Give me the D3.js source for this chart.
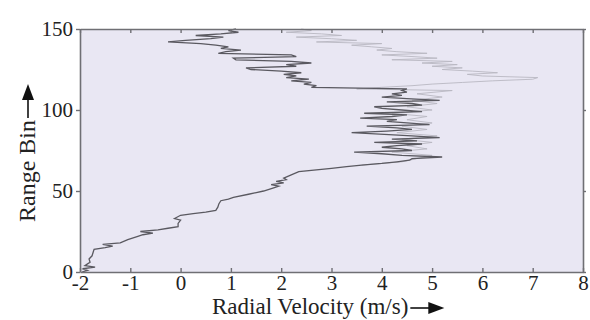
<!DOCTYPE html>
<html>
<head>
<meta charset="utf-8">
<script src="https://cdn.jsdelivr.net/npm/d3@7"></script>
<style>
  html, body { margin: 0; padding: 0; background: #fff; }
  svg { display: block; }
  text { font-family: "Liberation Serif", "Times New Roman", "DejaVu Serif", serif; fill: #222; }
</style>
</head>
<body>
<svg id="chart" width="590" height="320"></svg>
<script>
// range bins and radial velocity (m/s)
const darkBins = [0, 1, 2, 3, 4, 5, 6, 8, 10, 12, 14, 15, 16, 17, 18, 20, 22, 23, 24, 25, 26, 27, 28, 30, 32, 33, 35, 36, 37, 38, 40, 42, 44, 45, 46, 48, 50, 52, 53, 54, 55, 56, 57, 58, 60, 62, 63, 64, 65, 66, 67, 68, 69, 70,
  71, 72, 73, 74, 75, 76, 77, 78, 79, 80, 81, 82, 83, 84, 85, 86, 87, 88, 89, 90, 91, 92, 93, 94, 95, 96, 97, 98, 99, 100,
  101, 102, 103, 104, 105, 106, 107, 108, 109, 110, 111, 112, 113, 114, 115, 116, 117, 118, 119, 120, 121, 122, 123, 124, 125,
  126, 127, 128, 129, 130, 131, 132, 133, 134, 135, 136, 137, 138, 139, 140, 141, 142, 143, 144, 145, 146, 147, 148, 149, 150];
const darkVel = [-1.96, -1.85, -1.95, -1.70, -1.90, -1.85, -1.80, -1.82, -1.76, -1.74, -1.72, -1.50, -1.35, -1.55, -1.20, -1.05, -0.85, -0.75, -0.55, -0.80, -0.45, -0.25, -0.05, -0.05, 0.00, -0.12, 0.00, 0.25, 0.50, 0.70, 0.74, 0.76, 0.80, 0.95, 1.05, 1.35, 1.65, 1.85, 1.95, 1.80, 2.05, 1.90, 2.10, 2.05, 2.20, 2.35, 2.70, 3.00, 3.30, 3.60, 4.00, 4.30, 4.55, 4.60,
  5.20, 4.40, 4.00, 3.45, 4.60, 4.40, 4.00, 4.30, 4.80, 3.85, 4.70, 4.20, 5.15, 4.60, 4.05, 3.40, 4.10, 4.60, 4.30, 3.70, 4.95, 4.50, 4.10, 4.30, 3.57, 4.20, 4.50, 3.65, 4.80, 4.40,
  4.00, 3.85, 4.80, 4.60, 4.10, 5.15, 4.50, 4.00, 4.40, 4.20, 4.50, 4.40, 4.50, 2.60, 2.70, 2.45, 2.60, 2.20, 2.55, 2.10, 2.30, 2.05, 2.40, 2.00, 1.40,
  1.30, 2.30, 2.10, 2.60, 2.20, 1.10, 1.05, 2.30, 2.20, 0.75, 0.90, 1.20, 0.80, 0.95, 0.70, 0.40, -0.25, 0.10, 0.60, 0.85, 0.30, 0.80, 1.15, 0.95, 1.10];

const lightBins = [66, 68, 70, 72, 74, 76, 78, 80, 82, 84, 86, 88, 90, 92, 94, 96, 98, 100, 102, 104, 106, 108, 110, 112, 113, 114, 115, 116, 117, 118, 119, 120,
  121, 122, 123, 124, 125, 126, 127, 128, 129, 130, 131, 132, 133, 134, 135, 136, 137, 138, 139, 140, 141, 142, 143, 144, 145, 146, 147, 148, 149, 150];
const lightVel = [3.60, 4.40, 4.70, 5.00, 4.20, 4.90, 4.50, 5.00, 4.40, 5.10, 4.30, 4.90, 4.40, 5.00, 4.50, 4.90, 4.20, 5.00, 4.50, 5.10, 4.60, 5.20, 4.70, 5.40, 3.50, 4.00, 4.60, 5.00, 5.60, 6.20, 7.00, 7.10,
  6.00, 5.70, 6.30, 5.80, 5.20, 5.60, 5.00, 5.50, 4.80, 5.40, 4.20, 5.10, 4.60, 4.00, 4.90, 4.30, 3.90, 4.20, 3.80, 3.40, 4.00, 2.70, 3.50, 3.00, 2.30, 3.20, 2.80, 2.10, 2.60, 2.40];

const xTicks = [-2, -1, 0, 1, 2, 3, 4, 5, 6, 7, 8];
const yTicks = [0, 50, 100, 150];
const xTitle = "Radial Velocity (m/s)";
const yTitle = "Range Bin";

const plotL = 80, plotR = 583, plotT = 29, plotB = 272;
const serif = "'Liberation Serif', 'Times New Roman', 'DejaVu Serif', serif";
const svg = d3.select("#chart");

const x = d3.scaleLinear().domain([-2, 8]).range([plotL, plotR]);
const y = d3.scaleLinear().domain([0, 150]).range([plotB, plotT]);

svg.append("rect")
  .attr("x", plotL).attr("y", plotT)
  .attr("width", plotR - plotL).attr("height", plotB - plotT)
  .attr("fill", "#e9e7f3");

const line = d3.line().x(d => x(d[1])).y(d => y(d[0]));

svg.append("path")
  .datum(lightBins.map((b, i) => [b, lightVel[i]]))
  .attr("d", line)
  .attr("fill", "none")
  .attr("stroke", "#b9b8c2")
  .attr("stroke-width", 0.9);

svg.append("path")
  .datum(darkBins.map((b, i) => [b, darkVel[i]]))
  .attr("d", line)
  .attr("fill", "none")
  .attr("stroke", "#5a5960")
  .attr("stroke-width", 1.3);

// axes on all four sides
function styleAxis(g) {
  g.select(".domain").attr("stroke", "#6f6f74").attr("stroke-width", 1.6);
  g.selectAll(".tick line").attr("stroke", "#6f6f74").attr("stroke-width", 1.4);
  g.selectAll(".tick text")
    .style("font-family", serif)
    .style("font-size", "21px")
    .style("fill", "#222");
}

svg.append("g")
  .attr("transform", `translate(0,${plotB})`)
  .call(d3.axisBottom(x).tickValues(xTicks).tickSizeInner(-4).tickSizeOuter(0).tickPadding(3).tickFormat(d => String(d)))
  .call(styleAxis);

svg.append("g")
  .attr("transform", `translate(0,${plotT})`)
  .call(d3.axisTop(x).tickValues(xTicks).tickSizeInner(-4).tickSizeOuter(0).tickFormat(""))
  .call(styleAxis);

svg.append("g")
  .attr("transform", `translate(${plotL},0)`)
  .call(d3.axisLeft(y).tickValues(yTicks).tickSizeInner(4).tickSizeOuter(0).tickPadding(3).tickFormat(d => String(d)))
  .call(styleAxis);

svg.append("g")
  .attr("transform", `translate(${plotR},0)`)
  .call(d3.axisRight(y).tickValues(yTicks).tickSizeInner(3).tickSizeOuter(0).tickFormat(""))
  .call(styleAxis);

// titles with arrows
const xt = svg.append("text")
  .attr("x", 212).attr("y", 314)
  .style("font-family", serif)
  .style("font-size", "23px")
  .style("fill", "#222")
  .text(xTitle);
const xEnd = 212 + xt.node().getComputedTextLength() + 2;
svg.append("line")
  .attr("x1", xEnd).attr("x2", xEnd + 22)
  .attr("y1", 308).attr("y2", 308)
  .attr("stroke", "#111").attr("stroke-width", 1.6);
svg.append("path")
  .attr("d", `M${xEnd + 18},302 L${xEnd + 34},308 L${xEnd + 18},314 Z`)
  .attr("fill", "#111");

const yt = svg.append("text")
  .attr("transform", "translate(35,222) rotate(-90)")
  .style("font-family", serif)
  .style("font-size", "24px")
  .style("fill", "#222")
  .text(yTitle);
const yEnd = 222 - yt.node().getComputedTextLength() - 2;
svg.append("line")
  .attr("x1", 28).attr("x2", 28)
  .attr("y1", yEnd).attr("y2", yEnd - 22)
  .attr("stroke", "#111").attr("stroke-width", 1.6);
svg.append("path")
  .attr("d", `M22,${yEnd - 18} L28,${yEnd - 34} L34,${yEnd - 18} Z`)
  .attr("fill", "#111");
</script>
</body>
</html>
